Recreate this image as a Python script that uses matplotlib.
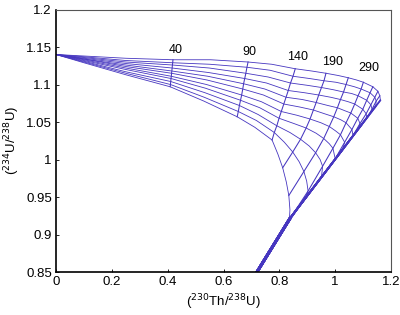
import matplotlib
matplotlib.use("Agg")
import matplotlib.pyplot as plt

plt.rcParams['font.family'] = ['Liberation Sans', 'DejaVu Sans']

# Ages (ka) at which each evolution curve is sampled
ages = [40, 65, 90, 115, 140, 165, 190, 215, 240, 265, 290, 340, 390, 440, 490]
# Isochrons drawn (ages) and labelled ones
iso_ages = [40, 90, 140, 190, 240, 290, 340, 390, 440, 490]
label_ages = [40, 90, 140, 190, 290]
label_x = [0.427, 0.692, 0.864, 0.989, 1.122]
label_y = [1.146, 1.143, 1.137, 1.130, 1.122]

# Common starting point of all curves
start_x, start_y = 0.0, 1.14
early_x = [0.10, 0.25]
early_y = [
    [1.138, 1.135], [1.137, 1.132], [1.136, 1.130], [1.135, 1.128],
    [1.134, 1.126], [1.134, 1.124], [1.133, 1.122], [1.132, 1.120],
    [1.131, 1.117], [1.130, 1.115], [1.129, 1.113],
]

# Curves, top to bottom: values at the ages listed above
curve_x = [
    [0.419, 0.554, 0.688, 0.773, 0.857, 0.916, 0.967, 1.011, 1.047, 1.077, 1.101, 1.135, 1.153, 1.160, 1.162],
    [0.418, 0.551, 0.684, 0.767, 0.849, 0.908, 0.960, 1.003, 1.039, 1.069, 1.093, 1.125, 1.142, 1.147, 1.145],
    [0.417, 0.549, 0.680, 0.760, 0.840, 0.899, 0.951, 0.994, 1.030, 1.059, 1.082, 1.113, 1.128, 1.132, 1.122],
    [0.416, 0.546, 0.676, 0.754, 0.832, 0.891, 0.941, 0.984, 1.019, 1.047, 1.070, 1.099, 1.111, 1.113, 1.096],
    [0.415, 0.544, 0.672, 0.748, 0.824, 0.882, 0.932, 0.974, 1.008, 1.035, 1.056, 1.081, 1.089, 1.082, 1.065],
    [0.414, 0.541, 0.669, 0.743, 0.816, 0.873, 0.922, 0.962, 0.995, 1.020, 1.039, 1.060, 1.064, 1.047, 1.030],
    [0.413, 0.539, 0.665, 0.736, 0.807, 0.863, 0.910, 0.949, 0.979, 1.002, 1.019, 1.034, 1.027, 1.010, 0.993],
    [0.412, 0.536, 0.661, 0.730, 0.799, 0.852, 0.896, 0.932, 0.959, 0.979, 0.992, 1.000, 0.983, 0.966, 0.949],
    [0.411, 0.534, 0.657, 0.724, 0.791, 0.838, 0.876, 0.907, 0.930, 0.946, 0.955, 0.951, 0.934, 0.917, 0.900],
    [0.410, 0.531, 0.653, 0.718, 0.782, 0.818, 0.848, 0.871, 0.888, 0.898, 0.903, 0.890, 0.873, 0.856, 0.839],
    [0.409, 0.529, 0.649, 0.712, 0.774, 0.795, 0.812, 0.825, 0.834, 0.838, 0.836, 0.819, 0.801, 0.784, 0.767],
]
curve_y = [
    [1.133, 1.133, 1.130, 1.127, 1.121, 1.118, 1.115, 1.112, 1.109, 1.106, 1.103, 1.097, 1.091, 1.085, 1.079],
    [1.129, 1.127, 1.123, 1.119, 1.111, 1.108, 1.105, 1.103, 1.100, 1.097, 1.094, 1.089, 1.083, 1.078, 1.071],
    [1.126, 1.122, 1.115, 1.110, 1.102, 1.099, 1.096, 1.093, 1.090, 1.088, 1.085, 1.079, 1.073, 1.067, 1.060],
    [1.122, 1.116, 1.108, 1.102, 1.092, 1.089, 1.086, 1.083, 1.080, 1.077, 1.074, 1.067, 1.061, 1.055, 1.047],
    [1.118, 1.111, 1.101, 1.094, 1.083, 1.080, 1.076, 1.072, 1.069, 1.065, 1.062, 1.055, 1.048, 1.040, 1.032],
    [1.115, 1.106, 1.094, 1.086, 1.074, 1.070, 1.066, 1.061, 1.057, 1.053, 1.049, 1.040, 1.032, 1.024, 1.015],
    [1.111, 1.100, 1.086, 1.077, 1.064, 1.059, 1.054, 1.049, 1.044, 1.038, 1.033, 1.023, 1.014, 1.005, 0.997],
    [1.108, 1.095, 1.079, 1.069, 1.055, 1.048, 1.042, 1.035, 1.028, 1.021, 1.015, 1.001, 0.992, 0.984, 0.976],
    [1.104, 1.089, 1.072, 1.060, 1.045, 1.036, 1.027, 1.018, 1.009, 1.000, 0.991, 0.977, 0.968, 0.960, 0.952],
    [1.100, 1.083, 1.064, 1.052, 1.036, 1.023, 1.010, 0.997, 0.984, 0.971, 0.958, 0.947, 0.938, 0.930, 0.922],
    [1.097, 1.078, 1.057, 1.043, 1.026, 1.007, 0.989, 0.970, 0.952, 0.933, 0.920, 0.910, 0.899, 0.889, 0.879],
]
# Cusp where the lowest curve meets the converging line, and the line's end
cusp_x, cusp_y = 0.839, 0.922
end_x, end_y = 0.70, 0.838

xticks = [0, 0.2, 0.4, 0.6, 0.8, 1, 1.2]
xtick_labels = ['0', '0.2', '0.4', '0.6', '0.8', '1', '1.2']
yticks = [0.85, 0.9, 0.95, 1, 1.05, 1.1, 1.15, 1.2]
ytick_labels = ['0.85', '0.9', '0.95', '1', '1.05', '1.1', '1.15', '1.2']

color = '#4636c0'

fig = plt.figure(figsize=(4.0, 3.15), dpi=100)
ax = fig.add_axes([0.14, 0.1365, 0.8375, 0.8333])

n = len(curve_x)
for i in range(n):
    xs = [start_x] + early_x + curve_x[i]
    ys = [start_y] + early_y[i] + curve_y[i]
    ax.plot(xs, ys, color=color, lw=0.6, solid_joinstyle='round')
    # slide down the converging line
    tx = [curve_x[i][-1]]
    ty = [curve_y[i][-1]]
    if curve_y[i][-1] > cusp_y + 0.001:
        tx.append(cusp_x)
        ty.append(cusp_y)
        ax.plot(tx, ty, color=color, lw=1.3, solid_capstyle='round')
    ax.plot([tx[-1], end_x], [ty[-1], end_y], color=color, lw=2.0,
            solid_capstyle='round')

for age in iso_ages:
    k = ages.index(age)
    xs = [curve_x[i][k] for i in range(n)]
    ys = [curve_y[i][k] for i in range(n)]
    ax.plot(xs, ys, color=color, lw=0.75)

for age, lx, ly in zip(label_ages, label_x, label_y):
    ax.text(lx, ly, str(age), ha='center', va='center', fontsize=9)

ax.set_xlim(0, 1.2)
ax.set_ylim(0.85, 1.2)
ax.set_xticks(xticks)
ax.set_xticklabels(xtick_labels)
ax.set_yticks(yticks)
ax.set_yticklabels(ytick_labels)
ax.tick_params(direction='in', length=2.5, width=0.6, labelsize=9.5, pad=3)
for side in ['left', 'bottom']:
    ax.spines[side].set_linewidth(1.2)
for side in ['top', 'right']:
    ax.spines[side].set_linewidth(0.8)
    ax.spines[side].set_color('#555555')

ax.set_xlabel(r'($^{230}$Th/$^{238}$U)', fontsize=9.5, labelpad=3)
ax.set_ylabel(r'($^{234}$U/$^{238}$U)', fontsize=9.5, labelpad=3)

fig.savefig('out.png', dpi=100)
